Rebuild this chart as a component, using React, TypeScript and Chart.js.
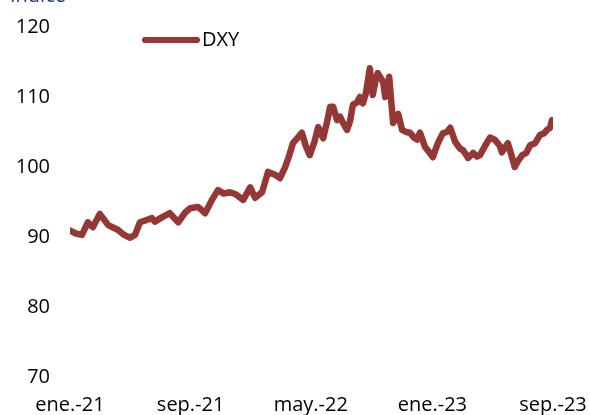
import React, { useEffect, useRef } from "react";
import { Chart, registerables } from "chart.js";

Chart.register(...registerables);

const dates: string[] = [
  "2021-01-01", "2021-01-13", "2021-01-25", "2021-02-06", "2021-02-16", "2021-03-02", "2021-03-19",
  "2021-04-08", "2021-04-20", "2021-05-02", "2021-05-12", "2021-05-22", "2021-06-03", "2021-06-15",
  "2021-06-21", "2021-07-05", "2021-07-21", "2021-08-07", "2021-08-21", "2021-08-31", "2021-09-16",
  "2021-09-30", "2021-10-14", "2021-10-26", "2021-11-07", "2021-11-19", "2021-12-01", "2021-12-16",
  "2021-12-30", "2022-01-09", "2022-01-23", "2022-02-04", "2022-02-18", "2022-02-28", "2022-03-10",
  "2022-03-18", "2022-03-26", "2022-04-05", "2022-04-13", "2022-04-21", "2022-04-29", "2022-05-08",
  "2022-05-16", "2022-05-26", "2022-06-03", "2022-06-09", "2022-06-15", "2022-06-23", "2022-06-29",
  "2022-07-05", "2022-07-13", "2022-07-19", "2022-07-25", "2022-08-02", "2022-08-08", "2022-08-14",
  "2022-08-20", "2022-08-28", "2022-09-03", "2022-09-09", "2022-09-13", "2022-09-20", "2022-09-24",
  "2022-09-28", "2022-10-06", "2022-10-10", "2022-10-14", "2022-10-24", "2022-11-01", "2022-11-09",
  "2022-11-17", "2022-11-25", "2022-12-01", "2022-12-07", "2022-12-17", "2022-12-27", "2023-01-02",
  "2023-01-12", "2023-01-22", "2023-01-30", "2023-02-06", "2023-02-16", "2023-02-26", "2023-03-04",
  "2023-03-14", "2023-03-24", "2023-04-01", "2023-04-07", "2023-04-17", "2023-04-27", "2023-05-07",
  "2023-05-17", "2023-05-21", "2023-06-02", "2023-06-08", "2023-06-16", "2023-06-22", "2023-07-01",
  "2023-07-09", "2023-07-17", "2023-07-27", "2023-08-06", "2023-08-14", "2023-08-20", "2023-08-26",
  "2023-08-30", "2023-09-01",
];

const dxy: number[] = [
  90.9, 90.5, 90.3, 92.1, 91.4, 93.3, 91.7,
  91.0, 90.3, 89.9, 90.3, 92.1, 92.4, 92.7,
  92.2, 92.8, 93.4, 92.1, 93.5, 94.1, 94.3,
  93.4, 95.3, 96.7, 96.2, 96.4, 96.1, 95.3,
  97.1, 95.6, 96.4, 99.3, 98.9, 98.4, 99.9,
  101.5, 103.4, 104.2, 104.9, 103.0, 101.7, 103.5,
  105.7, 104.1, 106.5, 108.6, 108.6, 106.7, 107.2,
  106.3, 105.3, 106.5, 108.9, 109.2, 110.0, 109.1,
  110.5, 114.1, 110.3, 112.5, 113.4, 112.6, 112.1,
  110.0, 112.9, 109.5, 106.3, 107.6, 105.3, 105.0,
  104.9, 104.2, 103.9, 104.9, 102.9, 102.0, 101.4,
  103.4, 104.8, 105.0, 105.6, 103.6, 102.6, 102.4,
  101.3, 102.0, 101.5, 101.7, 103.0, 104.2, 103.9,
  103.0, 102.1, 103.4, 102.0, 100.0, 100.8, 101.7,
  102.0, 103.1, 103.4, 104.6, 104.8, 105.3, 105.6,
  106.7, 106.3,
];

const xTickDates: string[] = ["2021-01-01", "2021-09-01", "2022-05-01", "2023-01-01", "2023-09-01"];
const xTickLabels: string[] = ["ene.-21", "sep.-21", "may.-22", "ene.-23", "sep.-23"];
const yTicks: number[] = [70, 80, 90, 100, 110, 120];

const seriesName = "DXY";
const axisTitle = "Índice";

const BASE = Date.UTC(2021, 0, 1);
const toDay = (s: string) => {
  const [y, m, d] = s.split("-").map(Number);
  return Math.round((Date.UTC(y, m - 1, d) - BASE) / 86400000);
};

const LINE_COLOR = "#953735";
const FONT = "'Open Sans', 'Noto Sans', sans-serif";

export default function App() {
  const ref = useRef<HTMLCanvasElement | null>(null);

  useEffect(() => {
    document.body.style.margin = "0";
    const canvas = ref.current;
    if (!canvas) return;
    const xTickDays = xTickDates.map(toDay);
    const points = dates.map((d, i) => ({ x: toDay(d), y: dxy[i] }));

    const overlay = {
      id: "overlay",
      afterDraw(chart: any) {
        const ctx = chart.ctx;
        ctx.save();
        ctx.fillStyle = "#1F3F8F";
        ctx.font = `20px ${FONT}`;
        ctx.textAlign = "left";
        ctx.textBaseline = "alphabetic";
        ctx.fillText(axisTitle, 10, 2);
        ctx.strokeStyle = LINE_COLOR;
        ctx.lineWidth = 6;
        ctx.lineCap = "round";
        ctx.beginPath();
        ctx.moveTo(145, 40);
        ctx.lineTo(197, 40);
        ctx.stroke();
        ctx.fillStyle = "#000000";
        ctx.textBaseline = "middle";
        ctx.fillText(seriesName, 202, 40);
        ctx.restore();
      },
    };

    const chart = new Chart(canvas, {
      type: "line",
      data: {
        datasets: [
          {
            label: seriesName,
            data: points,
            borderColor: LINE_COLOR,
            backgroundColor: LINE_COLOR,
            borderWidth: 6.5,
            pointRadius: 0,
            tension: 0,
            borderJoinStyle: "round",
            borderCapStyle: "round",
          },
        ],
      },
      options: {
        animation: false,
        responsive: false,
        maintainAspectRatio: false,
        layout: { padding: { top: 27, right: 37, left: 0, bottom: 0 } },
        plugins: {
          legend: { display: false },
          tooltip: { enabled: false },
        },
        scales: {
          x: {
            type: "linear",
            min: xTickDays[0],
            max: xTickDays[xTickDays.length - 1],
            grid: { display: false, drawTicks: false },
            border: { display: false },
            afterBuildTicks: (scale: any) => {
              scale.ticks = xTickDays.map((v) => ({ value: v }));
            },
            afterFit: (scale: any) => {
              scale.height = 38;
              scale.paddingLeft = 0;
              scale.paddingRight = 0;
            },
            ticks: {
              autoSkip: false,
              maxRotation: 0,
              padding: 16,
              color: "#000000",
              font: { size: 20, family: FONT },
              callback: (v: any) => {
                const i = xTickDays.indexOf(Number(v));
                return i >= 0 ? xTickLabels[i] : "";
              },
            },
          },
          y: {
            min: yTicks[0],
            max: yTicks[yTicks.length - 1],
            grid: { display: false, drawTicks: false },
            border: { display: false },
            afterBuildTicks: (scale: any) => {
              scale.ticks = yTicks.map((v) => ({ value: v }));
            },
            afterFit: (scale: any) => {
              scale.width = 70;
              scale.paddingTop = 0;
              scale.paddingBottom = 0;
            },
            ticks: {
              padding: 20,
              color: "#000000",
              font: { size: 20, family: FONT },
            },
          },
        },
      },
      plugins: [overlay],
    });
    return () => chart.destroy();
  }, []);

  return <canvas ref={ref} width={590} height={415} style={{ display: "block" }} />;
}
